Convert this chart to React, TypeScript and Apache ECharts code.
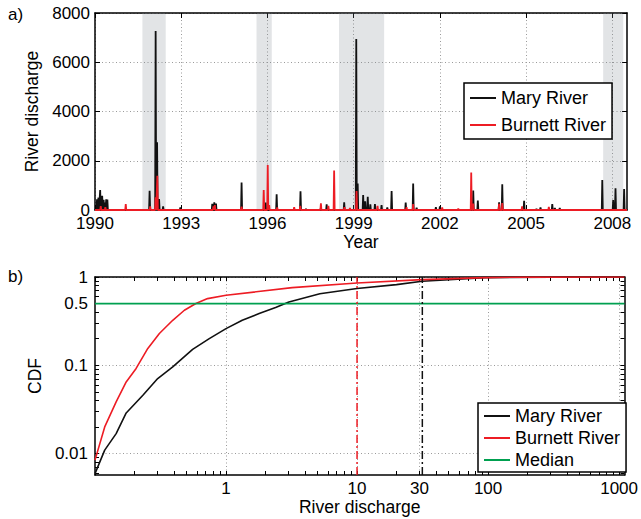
import React, { useEffect, useRef } from "react";
import * as echarts from "echarts";

// ---------- a) daily discharge time series ----------
const yearTicks = [1990, 1993, 1996, 1999, 2002, 2005, 2008];
const yearMin = 1990;
const yearMax = 2008.51;

const maryYears = [
  1990.07, 1990.12, 1990.18, 1990.25, 1990.3, 1990.35, 1990.39, 1990.43,
  1991.9, 1992.11, 1992.16, 1992.23, 1992.37, 1992.97,
  1994.08, 1994.15, 1994.21, 1995.1, 1995.94, 1996.32, 1997.15, 1997.34,
  1997.86, 1998.06, 1998.67, 1999.09, 1999.14, 1999.33, 1999.4, 1999.49, 1999.58,
  1999.74, 1999.97, 2000.17, 2000.32, 2000.81, 2001.07, 2001.19, 2001.86, 2002.0,
  2003.16, 2003.32, 2004.06, 2004.17, 2004.93, 2005.36, 2005.5, 2005.91, 2006.0,
  2006.17, 2007.65, 2008.03, 2008.11, 2008.41,
];
const maryPeaks = [
  435, 500, 812, 575, 410, 300, 435, 420,
  785, 7270, 2750, 450, 150, 100,
  250, 310, 260, 1120, 300, 640, 760, 50,
  80, 230, 310, 6940, 1080, 610, 350, 540, 230,
  240, 200, 100, 770, 300, 1080, 90, 110, 150,
  790, 380, 310, 1040, 370, 50, 100, 240, 80,
  80, 1220, 400, 880, 850,
];

const burnettYears = [
  1990.2, 1990.36, 1991.07, 1991.92, 1992.11, 1992.17, 1994.12, 1994.17,
  1995.1, 1995.87, 1996.01, 1996.06, 1996.34, 1996.93, 1997.14, 1997.86,
  1998.12, 1998.32, 1998.68, 1998.87, 1999.1, 1999.83, 2000.84, 2001.07,
  2002.08, 2002.64, 2003.09, 2003.16, 2004.06, 2004.17, 2004.86, 2005.79,
];
const burnettPeaks = [
  160, 120, 240, 150, 515, 1390, 150, 200,
  140, 810, 1830, 200, 100, 110, 170, 270,
  170, 1600, 110, 80, 770, 170, 120, 240,
  100, 60, 1520, 260, 250, 280, 150, 130,
];

const wetPeriods = [
  [1991.65, 1992.46],
  [1995.62, 1996.15],
  [1998.49, 2000.06],
  [2007.68, 2008.38],
];

// ---------- b) empirical CDF ----------
const maryCdfX = [0.1, 0.1186, 0.145, 0.173, 0.232, 0.301, 0.392, 0.556, 0.745, 1.0, 1.33, 1.79, 2.39, 3.02, 5.2, 10, 20, 31.4, 94, 300, 1100];
const maryCdfY = [0.0059, 0.0109, 0.0168, 0.0288, 0.0457, 0.0707, 0.0957, 0.151, 0.2, 0.26, 0.324, 0.385, 0.45, 0.52, 0.645, 0.74, 0.82, 0.895, 0.985, 0.998, 1];
const burnettCdfX = [0.1, 0.1186, 0.145, 0.173, 0.206, 0.253, 0.31, 0.392, 0.481, 0.589, 0.723, 1.0, 3.2, 10, 31.4, 94, 200, 1100];
const burnettCdfY = [0.0084, 0.02, 0.0384, 0.0647, 0.092, 0.155, 0.229, 0.323, 0.42, 0.5, 0.569, 0.62, 0.758, 0.855, 0.934, 0.985, 0.998, 1];
const medianLevel = 0.5;
const maryThreshold = 31.5;
const burnettThreshold = 10;

const cdfXMin = 0.1;
const cdfXMax = 1100;
const cdfYMin = 0.0057;
const cdfYMax = 1;
const cdfXLabels = [1, 10, 30, 100, 1000];
const cdfYLabels = [0.01, 0.1, 0.5, 1];
const cdfYGrid = [0.01, 0.1, 1];
const cdfDecadesX = [0.1, 1, 10, 100, 1000];
const cdfDecadesY = [0.001, 0.01, 0.1, 1];
const mantissas = [1, 2, 3, 4, 5, 6, 7, 8, 9];

const FONT = "'Liberation Sans', Arial, Helvetica, sans-serif";
const RED = "#ed1c24";
const BLACK = "#111111";
const GREEN = "#00a050";

function spikes(years: number[], peaks: number[], start: number, end: number) {
  const half = 0.018;
  const pts: number[][] = [[start, 0]];
  years.forEach((t, i) => {
    pts.push([t - half, 0], [t, peaks[i]], [t + half, 0]);
  });
  pts.push([end, 0]);
  return pts;
}

function logTicks(decades: number[], lo: number, hi: number) {
  const out: number[] = [];
  decades.forEach((d) => mantissas.forEach((m) => {
    const v = +(d * m).toPrecision(6);
    if (v >= lo && v <= hi) out.push(v);
  }));
  return out;
}

const fmt = (v: number) => String(+Number(v).toPrecision(6));

export default function App() {
  const ref = useRef<HTMLDivElement>(null);
  useEffect(() => {
    if (!ref.current) return;
    const chart = echarts.init(ref.current, null, { renderer: "svg" });
    const axisLine = { show: true, onZero: false, lineStyle: { color: "#000", width: 1.5 } };
    const tick = (len: number) => ({ show: true, inside: true, length: len, lineStyle: { color: "#000", width: 1 } });
    const grid = { show: true, lineStyle: { color: "#9a9a9a", type: [1, 2.5], width: 1 } };
    const label = { color: "#000", fontSize: 17, fontFamily: FONT };
    const nameStyle = { color: "#000", fontSize: 17.5, fontFamily: FONT };

    const xMinor = logTicks(cdfDecadesX, cdfXMin, cdfXMax);
    const yMinor = logTicks(cdfDecadesY, cdfYMin, cdfYMax);

    const logX = { type: "log", logBase: 10, min: cdfXMin, max: cdfXMax, gridIndex: 1 };
    const logY = { type: "log", logBase: 10, min: cdfYMin, max: cdfYMax, gridIndex: 1 };

    const legendBase = {
      orient: "vertical", icon: "rect", itemWidth: 26, itemHeight: 2,
      borderColor: "#000", borderWidth: 1.5, backgroundColor: "#fff", selectedMode: false,
      textStyle: { color: "#000", fontSize: 18, fontFamily: FONT },
    };

    const option: any = {
      animation: false,
      backgroundColor: "#fff",
      textStyle: { fontFamily: FONT },
      grid: [
        { left: 95, top: 13, width: 532, height: 197 },
        { left: 95, top: 277, width: 532, height: 198 },
      ],
      xAxis: [
        {
          type: "value", gridIndex: 0, min: yearMin, max: yearMax, position: "bottom",
          axisLine, axisTick: { ...tick(5), customValues: yearTicks },
          axisLabel: { ...label, margin: 5, customValues: yearTicks, formatter: fmt },
          splitLine: grid,
          name: "Year", nameLocation: "middle", nameGap: 21, nameTextStyle: nameStyle,
        },
        {
          type: "value", gridIndex: 0, min: yearMin, max: yearMax, position: "top",
          axisLine, axisTick: { ...tick(5), customValues: yearTicks },
          axisLabel: { show: false }, splitLine: { show: false },
        },
        {
          ...logX, position: "bottom", axisLine,
          axisTick: { ...tick(4), customValues: xMinor },
          axisLabel: { ...label, margin: 5, customValues: cdfXLabels, formatter: fmt },
          splitLine: { show: false }, minorTick: { show: false },
          name: "River discharge", nameLocation: "middle", nameGap: 19, nameTextStyle: nameStyle,
        },
        {
          ...logX, position: "top", axisLine,
          axisTick: { ...tick(4), customValues: xMinor },
          axisLabel: { show: false }, splitLine: { show: false },
        },
        {
          ...logX, position: "bottom", axisLine: { show: false },
          axisTick: { show: false, customValues: cdfXLabels },
          axisLabel: { show: false }, splitLine: grid,
        },
      ],
      yAxis: [
        {
          type: "value", gridIndex: 0, min: 0, max: 8000, interval: 2000, position: "left",
          axisLine, axisTick: tick(5),
          axisLabel: { ...label, margin: 5, formatter: fmt },
          splitLine: grid,
          name: "River discharge", nameLocation: "middle", nameGap: 49, nameTextStyle: nameStyle,
        },
        {
          type: "value", gridIndex: 0, min: 0, max: 8000, interval: 2000, position: "right",
          axisLine, axisTick: tick(5), axisLabel: { show: false }, splitLine: { show: false },
        },
        {
          ...logY, position: "left", axisLine,
          axisTick: { ...tick(4), customValues: yMinor },
          axisLabel: { ...label, margin: 7, customValues: cdfYLabels, formatter: fmt },
          splitLine: { show: false },
          name: "CDF", nameLocation: "middle", nameGap: 46, nameTextStyle: nameStyle,
        },
        {
          ...logY, position: "right", axisLine,
          axisTick: { ...tick(4), customValues: yMinor },
          axisLabel: { show: false }, splitLine: { show: false },
        },
        {
          ...logY, position: "left", axisLine: { show: false },
          axisTick: { show: false, customValues: cdfYGrid },
          axisLabel: { show: false }, splitLine: grid,
        },
      ],
      legend: [
        {
          ...legendBase,
          data: ["Mary River", "Burnett River"], left: 464, top: 83,
          padding: [6, 6, 5, 6], itemGap: 9,
        },
        {
          ...legendBase,
          data: ["Mary River", "Burnett River", "Median"], left: 478, top: 403,
          padding: [4, 6, 3, 6], itemGap: 4,
        },
      ],
      graphic: [
        { type: "text", left: 8, top: 6, style: { text: "a)", fontSize: 17, fontFamily: FONT, fill: "#000" } },
        { type: "text", left: 8, top: 268, style: { text: "b)", fontSize: 17, fontFamily: FONT, fill: "#000" } },
      ],
      series: [
        {
          name: "Mary River", type: "line", xAxisIndex: 0, yAxisIndex: 0, symbol: "none",
          data: spikes(maryYears, maryPeaks, yearMin, yearMax),
          lineStyle: { color: BLACK, width: 1.8 }, itemStyle: { color: BLACK },
          markArea: {
            silent: true, itemStyle: { color: "rgba(125,130,140,0.22)" }, label: { show: false },
            data: wetPeriods.map(([a, b]) => [{ xAxis: a }, { xAxis: b }]),
          },
        },
        {
          name: "Burnett River", type: "line", xAxisIndex: 0, yAxisIndex: 0, symbol: "none",
          data: spikes(burnettYears, burnettPeaks, yearMin, yearMax),
          lineStyle: { color: RED, width: 1.8 }, itemStyle: { color: RED },
        },
        {
          name: "Mary River", type: "line", xAxisIndex: 2, yAxisIndex: 2, symbol: "none",
          data: maryCdfX.map((x, i) => [x, maryCdfY[i]]),
          lineStyle: { color: BLACK, width: 1.6 }, itemStyle: { color: BLACK },
        },
        {
          name: "Burnett River", type: "line", xAxisIndex: 2, yAxisIndex: 2, symbol: "none",
          data: burnettCdfX.map((x, i) => [x, burnettCdfY[i]]),
          lineStyle: { color: RED, width: 1.6 }, itemStyle: { color: RED },
        },
        {
          name: "Median", type: "line", xAxisIndex: 2, yAxisIndex: 2, symbol: "none",
          data: [[cdfXMin, medianLevel], [cdfXMax, medianLevel]],
          lineStyle: { color: GREEN, width: 1.8 }, itemStyle: { color: GREEN },
        },
        {
          name: "burnett-threshold", type: "line", xAxisIndex: 2, yAxisIndex: 2, symbol: "none",
          data: [[burnettThreshold, cdfYMin], [burnettThreshold, cdfYMax]],
          lineStyle: { color: RED, width: 1.5, type: [8, 3, 2, 3] },
        },
        {
          name: "mary-threshold", type: "line", xAxisIndex: 2, yAxisIndex: 2, symbol: "none",
          data: [[maryThreshold, cdfYMin], [maryThreshold, cdfYMax]],
          lineStyle: { color: BLACK, width: 1.5, type: [8, 3, 2, 3] },
        },
      ],
    };
    chart.setOption(option);
    return () => chart.dispose();
  }, []);
  return (
    <div
      ref={ref}
      style={{ position: "fixed", left: 0, top: 0, width: 641, height: 519, background: "#fff" }}
    />
  );
}
